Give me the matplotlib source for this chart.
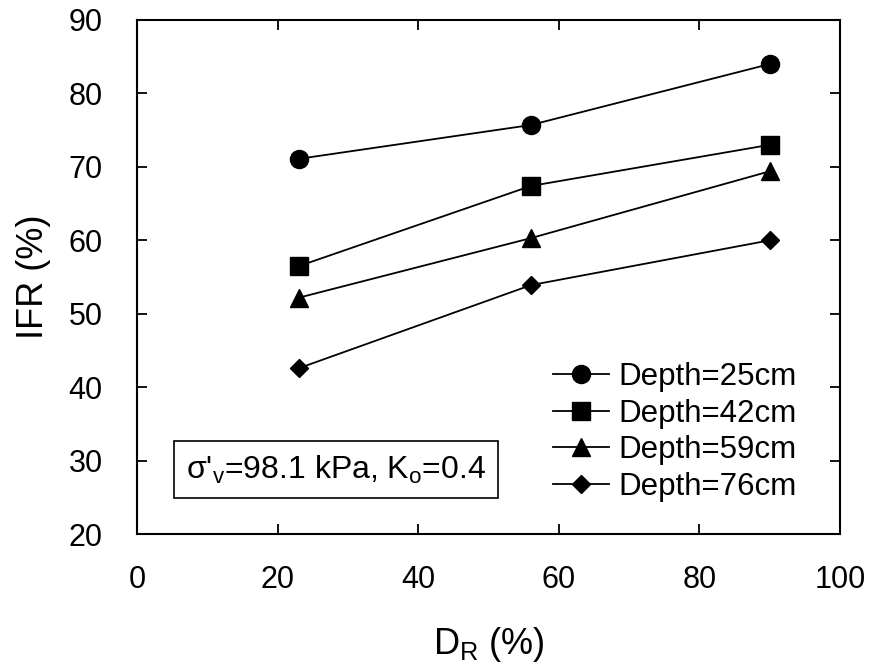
import matplotlib
matplotlib.use("Agg")
import matplotlib.pyplot as plt

plt.rcParams.update({
    "font.family": ["Liberation Sans", "DejaVu Sans"],
    "mathtext.fontset": "custom",
    "mathtext.rm": "Liberation Sans",
    "mathtext.it": "Liberation Sans",
    "mathtext.bf": "Liberation Sans",
})

# relative density (%) and IFR (%)
dr = [23, 56, 90]
ifr_25 = [71.1, 75.7, 84.0]
ifr_42 = [56.5, 67.4, 73.0]
ifr_59 = [52.2, 60.3, 69.4]
ifr_76 = [42.6, 53.9, 60.0]
series = [
    ("Depth=25cm", ifr_25, "o", 13),
    ("Depth=42cm", ifr_42, "s", 12.5),
    ("Depth=59cm", ifr_59, "^", 13),
    ("Depth=76cm", ifr_76, "D", 9),
]

fig = plt.figure(figsize=(8.7, 6.66), dpi=100)
ax = fig.add_axes([0.158, 0.198, 0.8075, 0.772])

for label, y, m, ms in series:
    ax.plot(dr, y, color="black", linewidth=1.3, marker=m, markersize=ms,
            markerfacecolor="black", markeredgecolor="black", label=label)

ax.set_xlim(0, 100)
ax.set_ylim(20, 90)
ax.set_xticks(range(0, 101, 20))
ax.set_yticks(range(20, 91, 10))
ax.tick_params(direction="in", length=7.5, width=1.3, top=True, right=True,
               labelsize=22)
ax.tick_params(axis="x", pad=22)
ax.tick_params(axis="y", pad=25)
for s in ax.spines.values():
    s.set_linewidth(1.5)

ax.set_xlabel("D$_\\mathrm{R}$ (%)", fontsize=26, labelpad=22)
ax.set_ylabel("IFR (%)", fontsize=26, labelpad=13)

ax.legend(loc="lower left", bbox_to_anchor=(0.591, 0.062), frameon=False,
          fontsize=22.5, handlelength=1.8, handletextpad=0.3,
          labelspacing=0.22, borderpad=0, borderaxespad=0)

ax.text(0.2824, 0.1255, "σ'${}_\\mathrm{v}$=98.1 kPa, K${}_\\mathrm{o}$=0.4",
        transform=ax.transAxes, ha="center", va="center", fontsize=23,
        bbox=dict(boxstyle="square,pad=0.38", facecolor="white",
                  edgecolor="black", linewidth=1.2))

fig.savefig("out.png", dpi=100)
